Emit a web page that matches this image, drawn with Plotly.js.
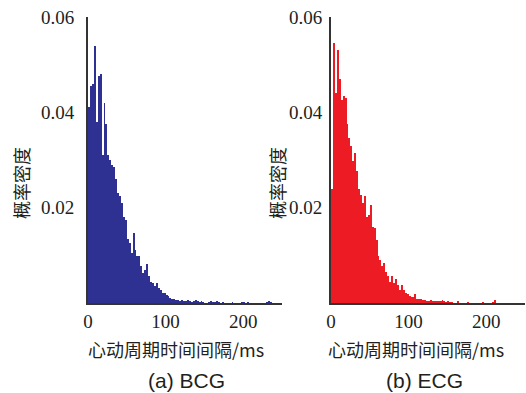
<!DOCTYPE html>
<html>
<head>
<meta charset="utf-8">
<script src="https://cdn.plot.ly/plotly-3.0.1.min.js"></script>
<style>html,body{margin:0;padding:0;background:#fff;}#chart{width:526px;height:393px;}</style>
</head>
<body>
<div id="chart"></div>
<script>
// bin width (ms) and densities, bins start at 0 ms
var binWidth = 2.5;
var bcgDensity = [
  0.041, 0.0455, 0.046, 0.054, 0.038, 0.0475, 0.048, 0.031, 0.042, 0.0375,
  0.031, 0.030, 0.029, 0.0285, 0.026, 0.023, 0.0225, 0.021, 0.018, 0.0175,
  0.0135, 0.0125, 0.0105, 0.0147, 0.0112, 0.0098, 0.0098, 0.0077, 0.0063, 0.007,
  0.0082, 0.0056, 0.0045, 0.0042, 0.0036, 0.0042, 0.0031, 0.0028, 0.0022, 0.0021,
  0.0017, 0.0015, 0.001, 0.0009, 0.0008, 0.0006, 0.0007, 0.0005, 0.0006, 0.0004,
  0.0005, 0.0006, 0.0004, 0.0003, 0.0005, 0.0006, 0.0004, 0.0003, 0.0004, 0.0002,
  0, 0, 0.0003, 0.0004, 0.0003, 0.0003, 0.0004, 0.0002, 0, 0.0003,
  0, 0, 0, 0, 0.0003, 0, 0, 0, 0, 0.0003,
  0.0003, 0, 0.0003, 0, 0, 0, 0, 0, 0, 0,
  0, 0, 0.0003, 0.0004, 0.0003, 0, 0, 0, 0, 0
];
var ecgDensity = [
  0.024, 0.0545, 0.044, 0.053, 0.047, 0.0425, 0.0435, 0.043, 0.0375, 0.0345,
  0.033, 0.0297, 0.0315, 0.0276, 0.024, 0.0227, 0.021, 0.0225, 0.018, 0.0185,
  0.0206, 0.016, 0.0158, 0.0133, 0.0098, 0.009, 0.0077, 0.0083, 0.0066, 0.0056,
  0.0045, 0.0056, 0.0042, 0.005, 0.0038, 0.0028, 0.0038, 0.0028, 0.0021, 0.0018,
  0.0014, 0.0012, 0.0013, 0.0019, 0.0009, 0.0008, 0.0009, 0.0007, 0.0006, 0.0005,
  0.0005, 0.0006, 0.0004, 0.0005, 0.0005, 0.0004, 0.0005, 0.0006, 0.0004, 0.0003,
  0.0005, 0.0003, 0.0003, 0, 0, 0.0004, 0, 0, 0, 0,
  0.0003, 0, 0, 0, 0, 0, 0, 0, 0.0003, 0,
  0, 0, 0, 0.0003, 0.0006, 0, 0, 0, 0, 0,
  0, 0, 0, 0, 0, 0, 0, 0, 0, 0
];
var xTickVals = [0, 100, 200];
var xTickText = ['0', '100', '200'];
var yTickVals = [0.02, 0.04, 0.06];
var yTickText = ['0.02', '0.04', '0.06'];
var xTitle = '心动周期时间间隔/ms';
var yTitle = '概率密度';
var panelTitles = ['(a) BCG', '(b) ECG'];

function centers(arr) {
  return arr.map(function (_, i) { return i * binWidth + binWidth / 2; });
}

var traces = [
  {type: 'bar', x: centers(bcgDensity), y: bcgDensity, width: binWidth,
   marker: {color: '#2e3192', line: {width: 0}}, xaxis: 'x', yaxis: 'y', hoverinfo: 'x+y'},
  {type: 'bar', x: centers(ecgDensity), y: ecgDensity, width: binWidth,
   marker: {color: '#ed1c24', line: {width: 0}}, xaxis: 'x2', yaxis: 'y2', hoverinfo: 'x+y'}
];

var tickFont = {family: '"Liberation Serif", "DejaVu Serif", serif', size: 19, color: '#231f20'};
var cjkFont = {family: '"Noto Sans CJK SC", sans-serif', size: 18, color: '#231f20'};

function xAxis(dom, anchor) {
  return {domain: dom, anchor: anchor, range: [0, 250], tickvals: xTickVals, ticktext: xTickText,
    showgrid: false, zeroline: false, showline: true, linecolor: '#333', linewidth: 2,
    ticks: '', ticklabelstandoff: 0, tickfont: tickFont, fixedrange: true};
}
function yAxis(anchor, standoff) {
  return {domain: [0.229, 0.957], anchor: anchor, range: [0, 0.06], tickvals: yTickVals, ticktext: yTickText,
    showgrid: false, zeroline: false, showline: true, linecolor: '#333', linewidth: 2,
    ticks: '', ticklabelstandoff: standoff, tickfont: tickFont, fixedrange: true};
}

var annFont = {family: '"Liberation Sans", Arial, sans-serif', size: 21, color: '#231f20'};
var layout = {
  width: 526, height: 393,
  margin: {l: 0, r: 0, t: 0, b: 0},
  paper_bgcolor: '#fff', plot_bgcolor: '#fff',
  showlegend: false, bargap: 0,
  xaxis: xAxis([0.1673, 0.5361], 'y'),
  yaxis: yAxis('x', 8),
  xaxis2: xAxis([0.6293, 0.998], 'y2'),
  yaxis2: yAxis('x2', 3),
  annotations: [
    {text: xTitle, xref: 'paper', yref: 'paper', x: 176 / 526, y: 1 - 349 / 393, showarrow: false, font: cjkFont, xanchor: 'center', yanchor: 'middle'},
    {text: xTitle, xref: 'paper', yref: 'paper', x: 416 / 526, y: 1 - 349 / 393, showarrow: false, font: cjkFont, xanchor: 'center', yanchor: 'middle'},
    {text: yTitle, xref: 'paper', yref: 'paper', x: 21 / 526, y: 1 - 183 / 393, showarrow: false, font: cjkFont, textangle: -90, xanchor: 'center', yanchor: 'middle'},
    {text: yTitle, xref: 'paper', yref: 'paper', x: 277 / 526, y: 1 - 183 / 393, showarrow: false, font: cjkFont, textangle: -90, xanchor: 'center', yanchor: 'middle'},
    {text: panelTitles[0], xref: 'paper', yref: 'paper', x: 186 / 526, y: 1 - 380 / 393, showarrow: false, font: annFont, xanchor: 'center', yanchor: 'middle'},
    {text: panelTitles[1], xref: 'paper', yref: 'paper', x: 424 / 526, y: 1 - 380 / 393, showarrow: false, font: annFont, xanchor: 'center', yanchor: 'middle'}
  ]
};

Plotly.newPlot('chart', traces, layout, {displayModeBar: false, staticPlot: true});
</script>
</body>
</html>
